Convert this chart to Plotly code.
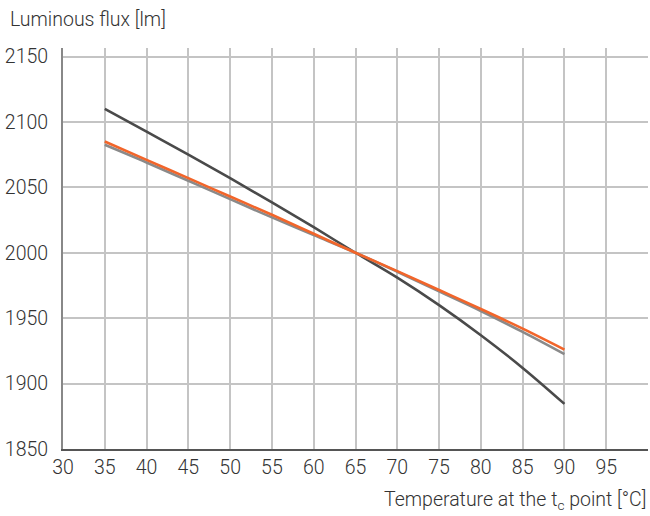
import plotly.graph_objects as go

temps = [35, 40, 45, 50, 55, 60, 65, 70, 75, 80, 85, 90]
flux_dark = [2110, 2092.5, 2075, 2057, 2038.5, 2019.5, 2000, 1981, 1960, 1937, 1912, 1884.5]
flux_gray = [2082.5, 2069, 2055, 2041, 2027, 2013.5, 2000, 1985.5, 1970.5, 1955.5, 1939.5, 1922.5]
flux_orange = [2085, 2071, 2057, 2043, 2029, 2014.5, 2000, 1986, 1971.5, 1957, 1942, 1926]

x_ticks = [30, 35, 40, 45, 50, 55, 60, 65, 70, 75, 80, 85, 90, 95]
y_ticks = [1850, 1900, 1950, 2000, 2050, 2100, 2150]

FONT = "Roboto"
PLOT_H = 516 - 48 - 67
PLOT_W = 650 - 63 - 2
fig = go.Figure()
fig.add_trace(go.Scatter(x=temps, y=flux_dark, mode="lines", line=dict(color="#4a4a4a", width=2.6, shape="spline")))
fig.add_trace(go.Scatter(x=temps, y=flux_gray, mode="lines", line=dict(color="#8a8a8a", width=2.6, shape="spline")))
fig.add_trace(go.Scatter(x=temps, y=flux_orange, mode="lines", line=dict(color="#f2652a", width=2.6, shape="spline")))

fig.update_layout(
    width=650, height=516,
    margin=dict(l=63, r=2, t=48, b=67),
    paper_bgcolor="white", plot_bgcolor="white",
    showlegend=False,
    font=dict(family=FONT, size=19.5, color="#333333", weight=300),
    xaxis=dict(range=[30, 100], tickvals=x_ticks, ticktext=[str(v) for v in x_ticks],
               showgrid=True, gridcolor="#c4c4c4", gridwidth=1.5,
               showline=True, linecolor="#555555", linewidth=2, zeroline=False,
               ticks="", ticklabelstandoff=0),
    yaxis=dict(range=[1850, 2156.5], tickvals=y_ticks, ticktext=[str(v) for v in y_ticks],
               showgrid=True, gridcolor="#c4c4c4", gridwidth=1.5,
               showline=True, linecolor="#888888", linewidth=2, zeroline=False,
               ticks="", ticklabelstandoff=9),
    annotations=[
        dict(text="Luminous flux [lm]", xref="paper", yref="paper", x=-55/PLOT_W, y=1 + 28/PLOT_H,
             xanchor="left", yanchor="middle", showarrow=False,
             font=dict(family=FONT, size=19.5, color="#333333", weight=300)),
        dict(text="Temperature at the t<sub>c</sub> point [°C]", xref="paper", yref="paper", x=1, y=-52/PLOT_H,
             xanchor="right", yanchor="middle", showarrow=False,
             font=dict(family=FONT, size=19.5, color="#333333", weight=300)),
    ],
)
fig.write_html("out.html")
